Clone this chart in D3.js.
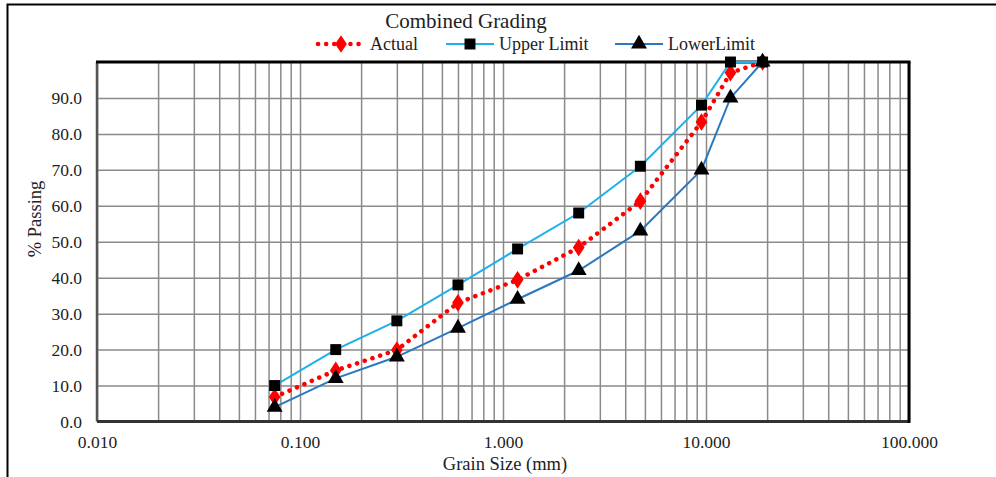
<!DOCTYPE html>
<html>
<head>
<meta charset="utf-8">
<script src="https://cdn.jsdelivr.net/npm/d3@7"></script>
<style>
  body { margin: 0; background: #fff; }
  svg text { font-family: "Liberation Serif", "Times New Roman", serif; fill: #222; }
</style>
</head>
<body>
<svg id="chart" width="996" height="477"></svg>
<script>
// sieve sizes (mm) and % passing
const sizes = [0.075, 0.15, 0.3, 0.6, 1.18, 2.36, 4.75, 9.5, 13.2, 19]
const actual = [6.8, 14.2, 19.9, 33, 39.4, 48.4, 61.3, 83.3, 97, 100]
const upper = [10, 20, 28, 38, 48, 58, 71, 88, 100, 100]
const lower = [4, 12, 18, 26, 34, 42, 53, 70, 90, 100]
const xTicks = [0.01, 0.1, 1, 10, 100]
const yTicks = [0, 10, 20, 30, 40, 50, 60, 70, 80, 90]

var margin = {top: 62, left: 97},
    width = 812,
    height = 359.5;

var svg = d3.select("#chart")

// outer chart frame (runs off the right / bottom edge)
svg.append("rect")
  .attr("x", 7.5).attr("y", 4.5)
  .attr("width", 1010).attr("height", 500)
  .attr("fill", "none").attr("stroke", "#000").attr("stroke-width", 2)

var g = svg.append("g")
  .attr("transform", "translate(" + margin.left + "," + margin.top + ")")

var x = d3.scaleLog().domain([0.01, 100]).range([0, width])
var y = d3.scaleLinear().domain([0, 100]).range([height, 0])

// minor log grid values
var gridX = []
for (var e = -2; e < 2; e++) {
  for (var k = 1; k <= 9; k++) gridX.push(k * Math.pow(10, e))
}
gridX.push(100)

g.append("g")
  .attr("class", "xgrid")
  .attr("transform", "translate(0," + height + ")")
  .call(d3.axisBottom(x).tickValues(gridX).tickSize(-height).tickFormat(""))
  .call(s => s.select(".domain").remove())
  .selectAll("line").attr("stroke", "#8a8a8a").attr("stroke-width", 1.5)

g.append("g")
  .attr("class", "ygrid")
  .call(d3.axisLeft(y).tickValues(d3.range(10, 100, 10)).tickSize(-width).tickFormat(""))
  .call(s => s.select(".domain").remove())
  .selectAll("line").attr("stroke", "#8a8a8a").attr("stroke-width", 1.5)

// plot border
g.append("line").attr("x1", 0).attr("x2", 0).attr("y1", 0).attr("y2", height)
  .attr("stroke", "#555").attr("stroke-width", 2.5)
g.append("line").attr("x1", 0).attr("x2", width).attr("y1", height).attr("y2", height)
  .attr("stroke", "#333").attr("stroke-width", 3)
g.append("line").attr("x1", -1).attr("x2", width + 1.5).attr("y1", 0).attr("y2", 0)
  .attr("stroke", "#000").attr("stroke-width", 3)
g.append("line").attr("x1", width).attr("x2", width).attr("y1", 0).attr("y2", height + 1.5)
  .attr("stroke", "#000").attr("stroke-width", 3)

// axes labels
var xAxis = g.append("g")
  .attr("transform", "translate(0," + height + ")")
  .call(d3.axisBottom(x).tickValues(xTicks).tickSize(0).tickPadding(14).tickFormat(d3.format(".3f")))
xAxis.select(".domain").remove()
xAxis.selectAll("text").style("font-size", "17.5px")

var yAxis = g.append("g")
  .call(d3.axisLeft(y).tickValues(yTicks).tickSize(0).tickPadding(15).tickFormat(d3.format(".1f")))
yAxis.select(".domain").remove()
yAxis.selectAll("text").style("font-size", "17.5px")

// series
var series = [
  {name: "Actual", values: actual, color: "#ff0000", dash: "0.1 8", lw: 4.5, sym: d3.symbolDiamond, size: 90},
  {name: "Upper Limit", values: upper, color: "#1cb0ec", dash: null, lw: 2, sym: d3.symbolSquare, size: 120},
  {name: "LowerLimit", values: lower, color: "#2a78c2", dash: null, lw: 2, sym: d3.symbolTriangle, size: 110}
]

var line = d3.line()
  .x(function(d, i) { return x(sizes[i]) })
  .y(function(d) { return y(d) })

series.forEach(function(s) {
  g.append("path")
    .datum(s.values)
    .attr("d", line)
    .attr("fill", "none")
    .attr("stroke", s.color)
    .attr("stroke-width", s.lw)
    .attr("stroke-linecap", s.dash ? "round" : "butt")
    .attr("stroke-dasharray", s.dash)
  var mfill = s.name == "Actual" ? "#ff0000" : "#000"
  g.selectAll(null)
    .data(s.values)
    .enter()
    .append("path")
    .attr("d", d3.symbol().type(s.sym).size(s.size))
    .attr("transform", function(d, i) {
      var sy = s.sym == d3.symbolDiamond ? " scale(1.15,1)" : ""
      return "translate(" + x(sizes[i]) + "," + y(d) + ")" + sy
    })
    .attr("fill", mfill)
})

// title
svg.append("text")
  .attr("x", 466).attr("y", 28)
  .attr("text-anchor", "middle")
  .style("font-size", "21px")
  .text("Combined Grading")

// legend
var legendPos = [317, 446, 615]
series.forEach(function(s, i) {
  var lg = svg.append("g").attr("transform", "translate(" + legendPos[i] + ",44)")
  lg.append("line")
    .attr("x1", s.dash ? 1 : 0).attr("x2", s.dash ? 48 : 48)
    .attr("stroke", s.color)
    .attr("stroke-width", s.lw)
    .attr("stroke-linecap", s.dash ? "round" : "butt")
    .attr("stroke-dasharray", s.dash)
  lg.append("path")
    .attr("d", d3.symbol().type(s.sym).size(s.size))
    .attr("transform", "translate(24,0)" + (s.sym == d3.symbolDiamond ? " scale(1.15,1)" : ""))
    .attr("fill", s.name == "Actual" ? "#ff0000" : "#000")
  lg.append("text")
    .attr("x", 53).attr("y", 6)
    .style("font-size", "18px")
    .text(s.name)
})

// axis titles
svg.append("text")
  .attr("x", 505).attr("y", 470)
  .attr("text-anchor", "middle")
  .style("font-size", "18.5px")
  .text("Grain Size (mm)")

svg.append("text")
  .attr("transform", "translate(41,219) rotate(-90)")
  .attr("text-anchor", "middle")
  .style("font-size", "18.5px")
  .text("% Passing")
</script>
</body>
</html>
